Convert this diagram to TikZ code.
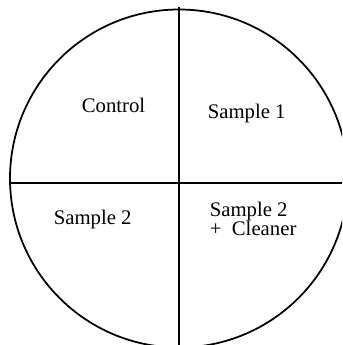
\documentclass[tikz,border=0pt]{standalone}
\usepackage{fontspec}
\setmainfont{Liberation Serif}
\usepackage{tikz}
\newcommand{\lblfont}{\fontsize{11.8}{11}\selectfont}

\begin{document}
\setlength{\lineskiplimit}{-10pt}
\begin{tikzpicture}[
  divider/.style={draw, line width=1pt},
  lbl/.style={inner sep=0pt, font=\lblfont, align=left}
]
\useasboundingbox (0,0) rectangle (6.84,-6.90);
\clip (0,0) rectangle (6.84,-6.90);
\coordinate (c) at (3.58,-3.57);
\coordinate (vtop) at (3.58,-0.14);
\coordinate (vbot) at (3.58,-6.95);
\coordinate (hleft) at (0.20,-3.66);
\coordinate (hright) at (6.90,-3.66);
\draw[divider] (c) circle (3.38);
\draw[divider] (vtop) -- (vbot);
\draw[divider] (hleft) -- (hright);
\node[lbl, anchor=base west] (ctrl) at (1.63,-2.25) {Control};
\node[lbl, anchor=base west] (smpA) at (4.15,-2.36) {Sample 1};
\node[lbl, anchor=base west] (smpB) at (1.07,-4.48) {Sample 2};
\node[lbl, anchor=base west] (smpBC) at (4.19,-4.71) {Sample 2\\+~ Cleaner};
\end{tikzpicture}
\end{document}
